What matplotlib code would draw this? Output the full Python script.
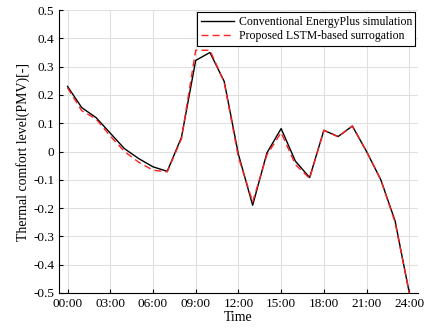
import matplotlib
matplotlib.use("Agg")
import matplotlib.pyplot as plt

hours = list(range(25))
tick_hours = [0, 3, 6, 9, 12, 15, 18, 21, 24]
tick_labels = ["00:00", "03:00", "06:00", "09:00", "12:00", "15:00", "18:00", "21:00", "24:00"]

energyplus = [0.23, 0.155, 0.12, 0.065, 0.01, -0.025, -0.054, -0.07, 0.05, 0.322, 0.35,
              0.248, -0.01, -0.19, -0.005, 0.081, -0.034, -0.092, 0.075, 0.053, 0.09,
              0.0, -0.1, -0.245, -0.5]
lstm = [0.225, 0.144, 0.115, 0.055, 0.0, -0.038, -0.066, -0.072, 0.045, 0.358, 0.358,
        0.245, -0.02, -0.178, -0.012, 0.067, -0.046, -0.095, 0.075, 0.052, 0.09,
        0.0, -0.1, -0.25, -0.5]

plt.rcParams["font.family"] = ["Liberation Serif", "DejaVu Serif"]

fig = plt.figure(figsize=(4.29, 3.35), dpi=100)
ax = fig.add_axes([0.1375, 0.1254, 0.8365, 0.8446])

ax.plot(hours, energyplus, color="black", linewidth=1.0, label="Conventional EnergyPlus simulation")
ax.plot(hours, lstm, color="#ff2020", linewidth=1.0, linestyle=(0, (5, 3)),
        label="Proposed LSTM-based surrogation")

ax.set_xlim(-0.6, 24.6)
ax.set_ylim(-0.5, 0.5)
ax.set_xticks(tick_hours)
ax.set_xticklabels(tick_labels)
ax.set_yticks([-0.5, -0.4, -0.3, -0.2, -0.1, 0, 0.1, 0.2, 0.3, 0.4, 0.5])
ax.set_yticklabels(["-0.5", "-0.4", "-0.3", "-0.2", "-0.1", "0", "0.1", "0.2", "0.3", "0.4", "0.5"])
ax.tick_params(direction="in", labelsize=9.5, length=3, width=0.8)
ax.grid(True, color="#e0e0e0", linewidth=0.8)
ax.set_axisbelow(True)

ax.spines["top"].set_visible(False)
ax.spines["right"].set_visible(False)

ax.set_xlabel("Time", fontsize=10, labelpad=1)
ax.set_ylabel("Thermal comfort level(PMV)[-]", fontsize=10, labelpad=2)

leg = ax.legend(loc="upper right", fontsize=8.5, frameon=True, fancybox=False,
                edgecolor="black", framealpha=1, borderpad=0.3, handlelength=2.8,
                handletextpad=0.4, labelspacing=0.2, borderaxespad=0.2)
leg.get_frame().set_linewidth(0.8)

plt.savefig("out.png", dpi=100)
plt.close()
